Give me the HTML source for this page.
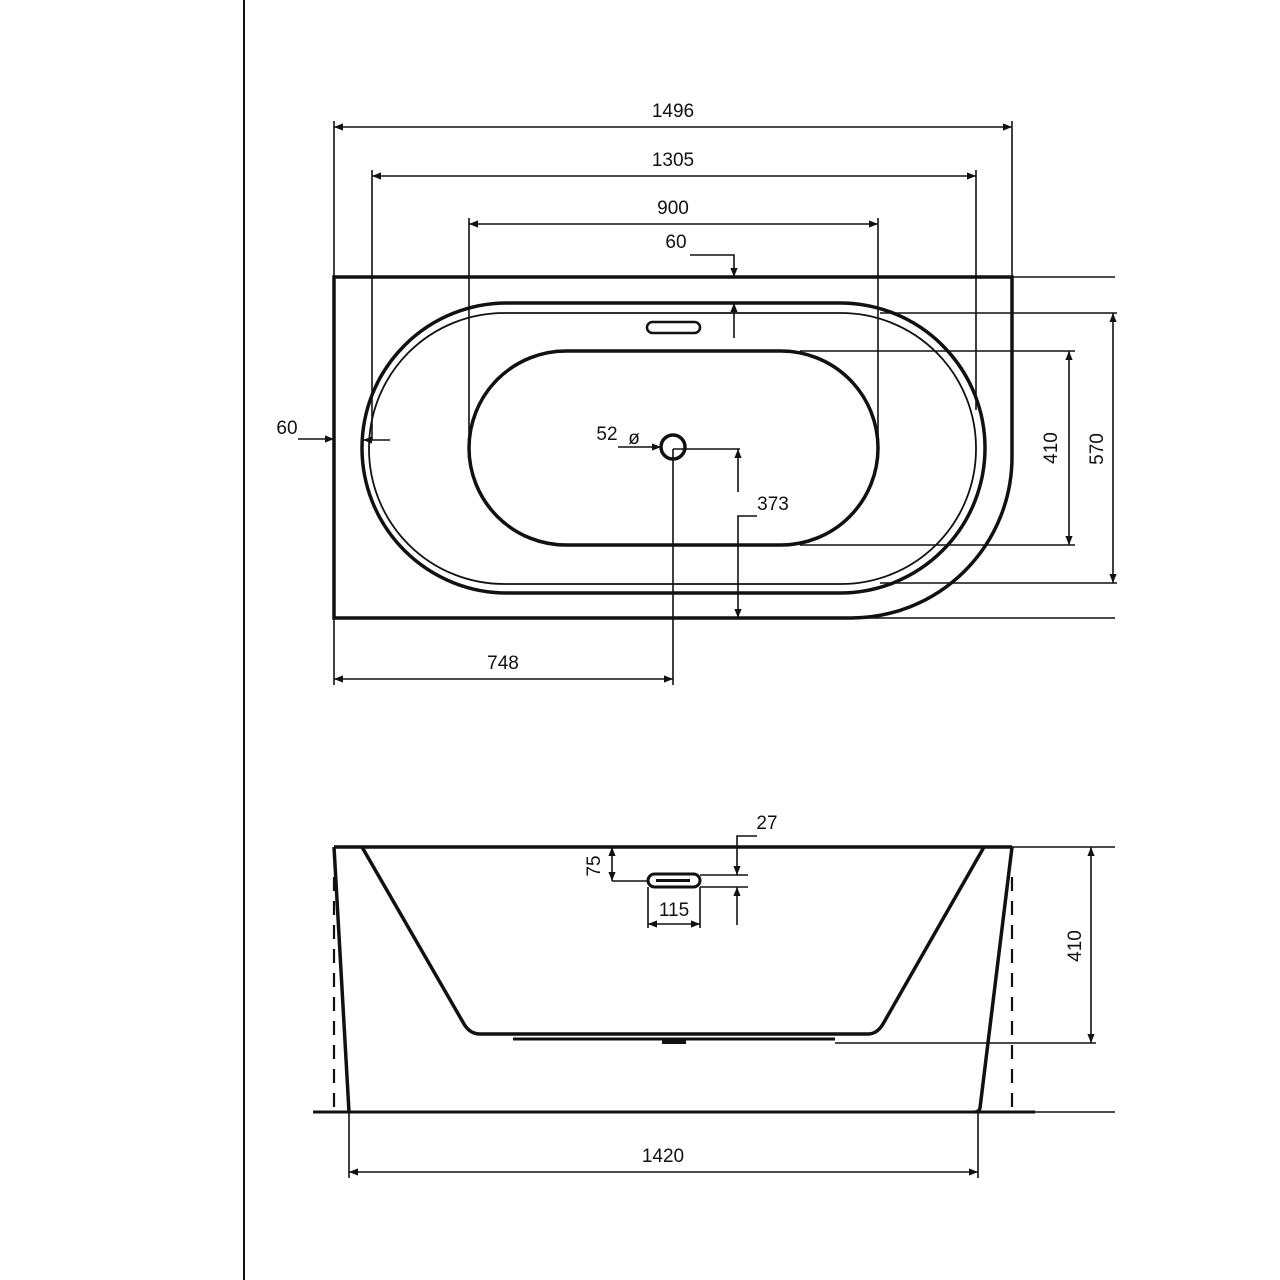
<!DOCTYPE html>
<html><head><meta charset="utf-8"><style>
html,body{margin:0;padding:0;background:#fff;}
svg{display:block;}
text{font-family:"Liberation Sans",Arial,sans-serif;font-size:19px;fill:#111;}
</style></head><body>
<svg width="1280" height="1280" viewBox="0 0 1280 1280" xmlns="http://www.w3.org/2000/svg">
<defs>
<marker id="a" viewBox="0 0 10 10" refX="10" refY="5" markerWidth="9" markerHeight="9" markerUnits="userSpaceOnUse" orient="auto-start-reverse">
<path d="M0,1 L10,5 L0,9 z" fill="#111"/></marker>
</defs>
<g stroke="#111" fill="none">
<line x1="244" y1="0" x2="244" y2="1280" stroke-width="2"/>

<!-- TOP VIEW -->
<g stroke-width="1.6">
<line x1="334" y1="121" x2="334" y2="277"/>
<line x1="1012" y1="121" x2="1012" y2="277"/>
<line x1="334" y1="127" x2="1012" y2="127" marker-start="url(#a)" marker-end="url(#a)"/>
<line x1="372" y1="170" x2="372" y2="440"/>
<line x1="976" y1="170" x2="976" y2="410"/>
<line x1="372" y1="176" x2="976" y2="176" marker-start="url(#a)" marker-end="url(#a)"/>
<line x1="469" y1="218" x2="469" y2="447"/>
<line x1="878" y1="218" x2="878" y2="440"/>
<line x1="469" y1="224" x2="878" y2="224" marker-start="url(#a)" marker-end="url(#a)"/>
<polyline points="690,255 734,255 734,277" marker-end="url(#a)"/>
<line x1="734" y1="338" x2="734" y2="303" marker-end="url(#a)"/>
<line x1="298" y1="439" x2="334" y2="439" marker-end="url(#a)"/>
<line x1="390" y1="440" x2="363" y2="440" marker-end="url(#a)"/>
<line x1="618" y1="447" x2="661" y2="447" marker-end="url(#a)"/>
<line x1="673" y1="449" x2="740" y2="449"/>
<line x1="738" y1="492" x2="738" y2="449" marker-end="url(#a)"/>
<polyline points="757,516 738,516 738,618" marker-end="url(#a)"/>
<line x1="673" y1="449" x2="673" y2="685"/>
<line x1="334" y1="618" x2="334" y2="685"/>
<line x1="334" y1="679" x2="673" y2="679" marker-start="url(#a)" marker-end="url(#a)"/>
<line x1="1012" y1="277" x2="1115" y2="277"/>
<line x1="851" y1="618" x2="1115" y2="618"/>
<line x1="800" y1="351" x2="1075" y2="351"/>
<line x1="800" y1="545" x2="1075" y2="545"/>
<line x1="1069" y1="351" x2="1069" y2="545" marker-start="url(#a)" marker-end="url(#a)"/>
<line x1="880" y1="313" x2="1117" y2="313"/>
<line x1="880" y1="583" x2="1117" y2="583"/>
<line x1="1113" y1="313" x2="1113" y2="583" marker-start="url(#a)" marker-end="url(#a)"/>
</g>
<path d="M334,277 H1012 V457 A161,161 0 0 1 851,618 H334 Z" stroke-width="3.5"/>
<rect x="362" y="303" width="623" height="290" rx="145" stroke-width="3.5"/>
<rect x="369" y="313" width="607" height="271" rx="135" stroke-width="1.8"/>
<rect x="469" y="351" width="409" height="194" rx="97" stroke-width="3.5"/>
<rect x="647" y="322" width="53" height="11" rx="5.5" stroke-width="2.5"/>
<circle cx="673" cy="447" r="12" stroke-width="3.5"/>

<!-- SIDE VIEW -->
<g stroke-width="1.6">
<line x1="1012" y1="847" x2="1115" y2="847"/>
<line x1="835" y1="1043" x2="1096" y2="1043"/>
<line x1="1091" y1="847" x2="1091" y2="1043" marker-start="url(#a)" marker-end="url(#a)"/>
<line x1="1035" y1="1112" x2="1115" y2="1112"/>
<line x1="349" y1="1112" x2="349" y2="1178"/>
<line x1="978" y1="1112" x2="978" y2="1178"/>
<line x1="349" y1="1172" x2="978" y2="1172" marker-start="url(#a)" marker-end="url(#a)"/>
<line x1="612" y1="847" x2="612" y2="881" marker-start="url(#a)" marker-end="url(#a)"/>
<line x1="612" y1="881" x2="648" y2="881"/>
<line x1="648" y1="887" x2="648" y2="928"/>
<line x1="700" y1="887" x2="700" y2="928"/>
<line x1="648" y1="924" x2="700" y2="924" marker-start="url(#a)" marker-end="url(#a)"/>
<polyline points="757,836 737,836 737,875" marker-end="url(#a)"/>
<line x1="700" y1="875" x2="748" y2="875"/>
<line x1="700" y1="887" x2="748" y2="887"/>
<line x1="737" y1="925" x2="737" y2="887" marker-end="url(#a)"/>
</g>
<line x1="334" y1="847" x2="1012" y2="847" stroke-width="3.5"/>
<line x1="313" y1="1112" x2="1035" y2="1112" stroke-width="3"/>
<path d="M334,847 L349,1112" stroke-width="3.5"/>
<path d="M1012,847 L980,1108 Q979,1112 975,1112" stroke-width="3.5"/>
<path d="M362,847 L464,1024 Q470,1034 480,1034 H868 Q877,1034 883,1024 L984,847" stroke-width="3.5"/>
<line x1="513" y1="1039" x2="835" y2="1039" stroke-width="3"/>
<rect x="662" y="1039" width="24" height="5" fill="#111" stroke="none"/>
<line x1="334" y1="877" x2="334" y2="1108" stroke-width="2.2" stroke-dasharray="14,10"/>
<line x1="1012" y1="877" x2="1012" y2="1108" stroke-width="2.2" stroke-dasharray="14,10"/>
<rect x="648" y="874" width="52" height="13" rx="6.5" stroke-width="3"/>
<line x1="656" y1="880.5" x2="690" y2="880.5" stroke-width="3"/>
</g>
<g>
<text x="673" y="117" text-anchor="middle">1496</text>
<text x="673" y="166" text-anchor="middle">1305</text>
<text x="673" y="214" text-anchor="middle">900</text>
<text x="676" y="248" text-anchor="middle">60</text>
<text x="287" y="434" text-anchor="middle">60</text>
<text x="607" y="440" text-anchor="middle">52</text>
<text x="634" y="444" text-anchor="middle">ø</text>
<text x="773" y="510" text-anchor="middle">373</text>
<text x="503" y="669" text-anchor="middle">748</text>
<text transform="translate(1057,448) rotate(-90)" text-anchor="middle">410</text>
<text transform="translate(1103,449) rotate(-90)" text-anchor="middle">570</text>
<text transform="translate(1081,946) rotate(-90)" text-anchor="middle">410</text>
<text transform="translate(600,866) rotate(-90)" text-anchor="middle">75</text>
<text x="674" y="916" text-anchor="middle">115</text>
<text x="767" y="829" text-anchor="middle">27</text>
<text x="663" y="1162" text-anchor="middle">1420</text>
</g>
</svg>
</body></html>
